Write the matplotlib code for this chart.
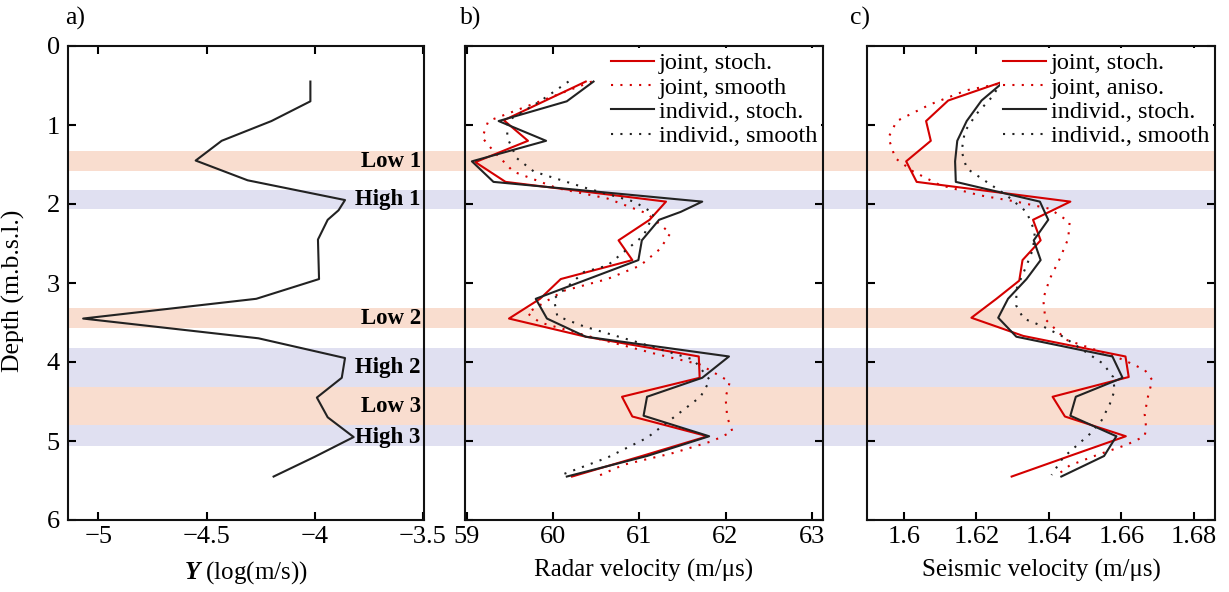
import matplotlib
matplotlib.use("Agg")
import matplotlib.pyplot as plt
from matplotlib.patches import Rectangle
from matplotlib.transforms import blended_transform_factory

plt.rcParams['font.family'] = ['Liberation Serif', 'DejaVu Serif']
plt.rcParams['mathtext.fontset'] = 'custom'
plt.rcParams['mathtext.rm'] = 'Liberation Serif'
plt.rcParams['mathtext.bfit'] = 'Liberation Serif:bold:italic'

# --- panel a: hydraulic conductivity Y vs depth
y_depth = [0.45, 0.70, 0.95, 1.20, 1.45, 1.70, 1.95, 2.08, 2.20, 2.45, 2.95,
           3.20, 3.45, 3.70, 3.95, 4.20, 4.45, 4.70, 4.95, 5.20, 5.45]
y_val = [-4.02, -4.02, -4.20, -4.43, -4.55, -4.31, -3.86, -3.89, -3.94, -3.985, -3.98,
         -4.27, -5.07, -4.26, -3.86, -3.875, -3.99, -3.94, -3.82, -4.00, -4.19]

# --- panel b: radar velocity
rad_js_depth = [0.45, 0.94, 1.20, 1.47, 1.72, 1.97, 2.20, 2.46, 2.71, 2.95, 3.20,
                3.45, 3.68, 3.93, 4.20, 4.44, 4.69, 4.94, 5.19, 5.45]
rad_js = [60.38, 59.43, 59.71, 59.10, 59.45, 61.31, 61.12, 60.76, 60.92, 60.09, 59.85,
          59.49, 60.38, 61.69, 61.70, 60.80, 60.92, 61.79, 61.03, 60.22]

rad_jm_depth = [0.45, 0.95, 1.16, 1.33, 1.59, 1.80, 1.93, 2.12, 2.37, 2.57, 2.78,
                2.95, 3.10, 3.38, 3.50, 3.70, 3.90, 4.03, 4.25, 4.45, 4.70,
                4.88, 5.00, 5.15, 5.30, 5.45]
rad_jm = [60.45, 59.25, 59.18, 59.31, 59.54, 60.05, 60.63, 61.09, 61.36, 61.24, 61.01,
          60.63, 60.12, 59.70, 59.85, 60.50, 61.20, 61.70, 62.05, 62.00, 62.02,
          62.08, 61.85, 61.40, 60.82, 60.51]

rad_is_depth = [0.45, 0.70, 0.95, 1.20, 1.46, 1.72, 1.97, 2.10, 2.20, 2.46, 2.71,
                3.20, 3.45, 3.68, 3.93, 4.20, 4.44, 4.68, 4.94, 5.19, 5.45]
rad_is = [60.47, 60.16, 59.37, 59.92, 59.06, 59.31, 61.73, 61.48, 61.23, 61.03, 60.99,
          59.80, 59.93, 60.38, 62.04, 61.73, 61.09, 61.05, 61.81, 61.09, 60.16]

rad_im_depth = [0.45, 0.70, 0.95, 1.16, 1.42, 1.59, 1.80, 1.97, 2.12, 2.40, 2.78,
                2.86, 3.20, 3.42, 3.55, 3.76, 3.97, 4.23, 4.44, 4.70, 4.96,
                5.21, 5.42]
rad_im = [60.18, 59.85, 59.47, 59.47, 59.58, 59.78, 60.39, 60.94, 61.17, 61.05, 60.63,
          60.36, 60.01, 60.05, 60.36, 61.01, 61.63, 61.82, 61.71, 61.40, 61.09,
          60.63, 60.12]

# --- panel c: seismic velocity
sei_js_depth = [0.45, 0.69, 0.95, 1.20, 1.46, 1.72, 1.97, 2.20, 2.46, 2.71, 2.97,
                3.20, 3.44, 3.67, 3.93, 4.19, 4.44, 4.69, 4.94, 5.19, 5.45]
sei_js = [1.6274, 1.6122, 1.6061, 1.6074, 1.6006, 1.6035, 1.6459, 1.6356, 1.6377,
          1.6327, 1.6318, 1.6255, 1.6186, 1.6329, 1.6611, 1.6620, 1.6410, 1.6444,
          1.6612, 1.6457, 1.6297]

sei_ja_depth = [0.46, 0.56, 0.74, 0.95, 1.16, 1.42, 1.59, 1.76, 1.89, 1.97, 2.06,
                2.23, 2.44, 2.69, 2.95, 3.20, 3.46, 3.72, 3.85, 3.97, 4.10,
                4.23, 4.44, 4.66, 4.83, 4.94, 5.05, 5.18, 5.31, 5.44]
sei_ja = [1.6283, 1.6173, 1.6072, 1.5980, 1.5957, 1.5976, 1.6026, 1.6099, 1.6209,
          1.6310, 1.6402, 1.6457, 1.6453, 1.6430, 1.6402, 1.6384, 1.6390, 1.6448,
          1.6531, 1.6604, 1.6664, 1.6685, 1.6673, 1.6664, 1.6668, 1.6664, 1.6613,
          1.6531, 1.6457, 1.6420]

sei_is_depth = [0.45, 0.69, 0.95, 1.20, 1.46, 1.72, 1.97, 2.20, 2.46, 2.71, 2.95,
                3.20, 3.44, 3.68, 3.93, 4.20, 4.44, 4.68, 4.94, 5.19, 5.45]
sei_is = [1.6276, 1.6214, 1.6173, 1.6147, 1.6141, 1.6143, 1.6375, 1.6398, 1.6358,
          1.6377, 1.6338, 1.6287, 1.6260, 1.6310, 1.6575, 1.6603, 1.6474, 1.6459,
          1.6586, 1.6552, 1.6434]

sei_im_depth = [0.46, 0.65, 0.86, 1.08, 1.33, 1.55, 1.72, 1.89, 2.10, 2.35, 2.57,
                2.78, 3.08, 3.29, 3.45, 3.55, 3.68, 3.85, 4.02, 4.19, 4.36,
                4.53, 4.74, 4.91, 5.06, 5.21, 5.43]
sei_im = [1.6269, 1.6242, 1.6200, 1.6168, 1.6159, 1.6173, 1.6228, 1.6283, 1.6338,
          1.6361, 1.6356, 1.6338, 1.6310, 1.6310, 1.6330, 1.6384, 1.6439, 1.6494,
          1.6549, 1.6577, 1.6581, 1.6568, 1.6545, 1.6513, 1.6476, 1.6439, 1.6407]

# highlighted zones
zone_names = ['Low 1', 'High 1', 'Low 2', 'High 2', 'Low 3', 'High 3']
zone_top = [1.33, 1.82, 3.32, 3.82, 4.32, 4.80]
zone_bot = [1.58, 2.06, 3.57, 4.32, 4.80, 5.06]
zone_label_depth = [1.46, 1.94, 3.45, 4.07, 4.56, 4.95]
zone_kind = ['low', 'high', 'low', 'high', 'low', 'high']
zone_color = {'low': '#f9ddcf', 'high': '#e0e0f1'}

red = '#d40000'
black = '#222222'
dots = (0, (1, 3.5))

W, H = 1229, 592
fig = plt.figure(figsize=(W / 100, H / 100), dpi=100)
fig.patch.set_facecolor('white')

ax_a = fig.add_axes([68 / W, 1 - 520 / H, 356 / W, 474 / H])
ax_b = fig.add_axes([465 / W, 1 - 520 / H, 358 / W, 474 / H])
ax_c = fig.add_axes([867 / W, 1 - 520 / H, 348 / W, 474 / H])

for ax in (ax_a, ax_b, ax_c):
    ax.set_facecolor('none')
    ax.set_ylim(6, 0)
    ax.set_yticks(range(7))
    for s in ax.spines.values():
        s.set_linewidth(1.5)
        s.set_color('#111111')
    ax.tick_params(direction='in', length=6, width=1.5, labelsize=19,
                   top=True, bottom=True, pad=4)

ax_a.tick_params(axis='y', left=True, right=False, pad=6)
ax_b.tick_params(axis='y', left=True, right=True, labelleft=False)
ax_c.tick_params(axis='y', left=True, right=True, labelleft=False)

# bands spanning all panels
tr = blended_transform_factory(fig.transFigure, ax_a.transData)
for t, b, k in zip(zone_top, zone_bot, zone_kind):
    fig.patches.append(Rectangle((68 / W, t), (1215 - 68) / W, b - t, transform=tr,
                                 facecolor=zone_color[k], edgecolor='none', zorder=-1))

# panel a
ax_a.plot(y_val, y_depth, color=black, lw=1.5, zorder=3)
ax_a.set_xlim(-5.14, -3.495)
ax_a.set_xticks([-5, -4.5, -4, -3.5])
ax_a.set_xticklabels(['\u22125', '\u22124.5', '\u22124', '\u22123.5'])
ax_a.set_xlabel(r'$\boldsymbol{Y}$ (log(m/s))', fontsize=18)
ax_a.set_ylabel('Depth (m.b.s.l.)', fontsize=18.5)
ax_a.yaxis.set_label_coords(-0.121, 0.483)
for name, d in zip(zone_names, zone_label_depth):
    ax_a.text(-3.51, d, name, ha='right', va='center', fontsize=16.5,
              fontweight='bold', zorder=2)

# panel b
ax_b.plot(rad_js, rad_js_depth, color=red, lw=1.5, label='joint, stoch.')
ax_b.plot(rad_jm, rad_jm_depth, color=red, lw=1.5, ls=dots, label='joint, smooth')
ax_b.plot(rad_is, rad_is_depth, color=black, lw=1.5, label='individ., stoch.')
ax_b.plot(rad_im, rad_im_depth, color=black, lw=1.5, ls=dots, label='individ., smooth')
ax_b.set_xlim(58.98, 63.13)
ax_b.set_xticks([59, 60, 61, 62, 63])
ax_b.set_xlabel('Radar velocity (m/\u03bcs)', fontsize=18)

# panel c
ax_c.plot(sei_js, sei_js_depth, color=red, lw=1.5, label='joint, stoch.')
ax_c.plot(sei_ja, sei_ja_depth, color=red, lw=1.5, ls=dots, label='joint, aniso.')
ax_c.plot(sei_is, sei_is_depth, color=black, lw=1.5, label='individ., stoch.')
ax_c.plot(sei_im, sei_im_depth, color=black, lw=1.5, ls=dots, label='individ., smooth')
ax_c.set_xlim(1.5898, 1.6858)
ax_c.set_xticks([1.6, 1.62, 1.64, 1.66, 1.68])
ax_c.set_xticklabels(['1.6', '1.62', '1.64', '1.66', '1.68'])
ax_c.set_xlabel('Seismic velocity (m/\u03bcs)', fontsize=18)

for ax in (ax_a, ax_b, ax_c):
    ax.xaxis.set_label_coords(0.5, -0.082)

for ax in (ax_b, ax_c):
    leg = ax.legend(loc='upper right', fontsize=17.5, frameon=True, fancybox=False,
                    handlelength=1.75, handletextpad=0.2, labelspacing=0.1,
                    borderaxespad=0.1, borderpad=0.15)
    leg.get_frame().set_edgecolor('none')
    leg.get_frame().set_facecolor('white')
    leg.get_frame().set_alpha(1)

for lab, x in zip(['a)', 'b)', 'c)'], [65, 460, 850]):
    fig.text(x / W, 1 - 18 / H, lab, fontsize=18.5, ha='left', va='center')

fig.savefig('out.png', dpi=100, facecolor='white')
